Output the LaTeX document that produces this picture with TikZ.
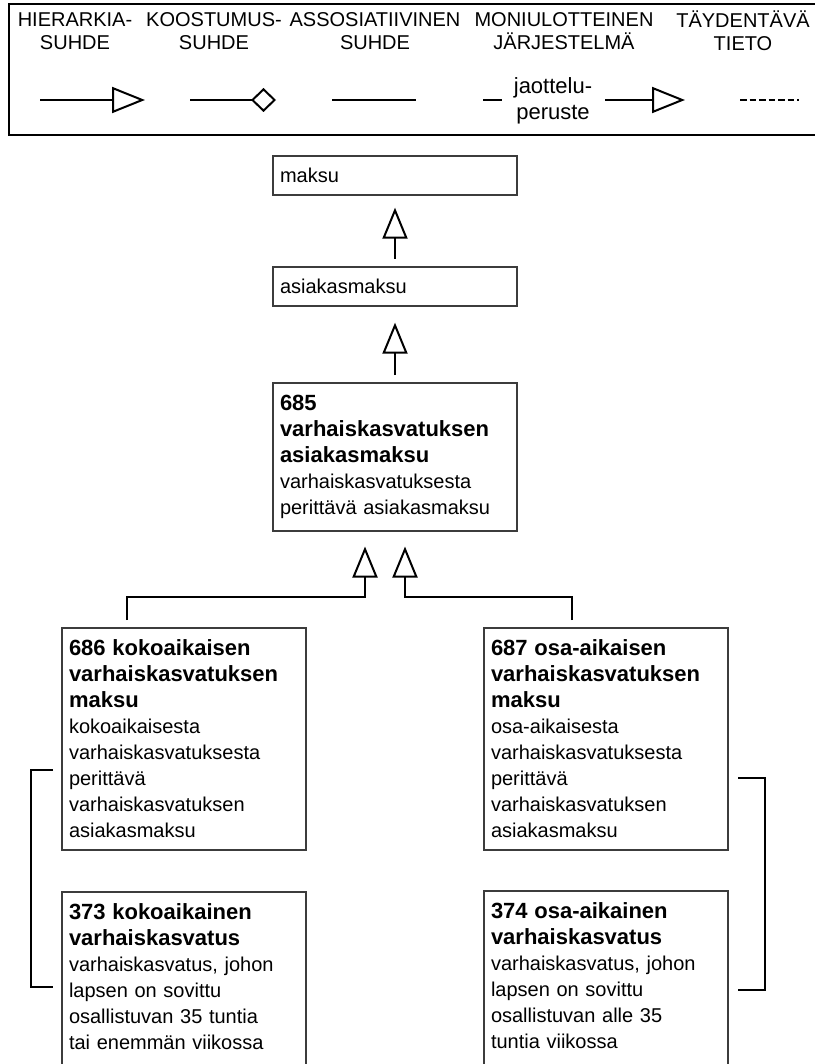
\documentclass[tikz,border=0pt]{standalone}
\usepackage{fontspec}
\setmainfont{Liberation Sans}
\usetikzlibrary{arrows.meta}
\definecolor{boxgray}{RGB}{60,60,60}
\newcommand{\tit}[1]{{\fontsize{22}{26}\selectfont\bfseries #1}}

\begin{document}
\begin{tikzpicture}[x=1pt,y=-1pt,
  term/.style={draw=boxgray, line width=2pt, outer sep=0pt, anchor=north west,
    text width=230pt, inner xsep=7pt, inner ysep=12pt, align=left,
    font=\fontsize{20}{26}\selectfont},
  legtext/.style={align=center, inner sep=0pt, font=\fontsize{20}{23}\selectfont},
  legline/.style={line width=2pt},
  isa/.style={line width=2pt, -{Triangle[open,length=31pt,width=25pt]}},
  assoc/.style={line width=2pt}]
\useasboundingbox (0,0) rectangle (814,1064);
% selite
\draw [line width=2.5pt] (9,4) rectangle (840,135);
\node[legtext] (lhier) at (75,31) {HIERARKIA-\\SUHDE};
\node[legtext] (lkoost) at (214,31) {KOOSTUMUS-\\SUHDE};
\node[legtext] (lassoc) at (375,31) {ASSOSIATIIVINEN\\SUHDE};
\node[legtext] (lmoni) at (564,31) {MONIULOTTEINEN\\JÄRJESTELMÄ};
\node[legtext] (ltayd) at (743,31) {TÄYDENTÄVÄ\\TIETO};
\draw [legline,-{Triangle[open,length=33pt,width=26pt]}] (40,100) -- (145,100);
\draw [legline,-{Diamond[open,length=25pt,width=24pt]}] (190,100) -- (276,100);
\draw [legline] (332,100) -- (416,100);
\draw [legline] (483,100) -- (502,100);
\node[align=center, inner sep=0pt, font=\fontsize{22}{26}\selectfont] (jaot) at (553,101) {jaottelu-\\peruste};
\draw [legline,-{Triangle[open,length=33pt,width=26pt]}] (605,100) -- (685,100);
\draw [legline, dash pattern=on 6.5pt off 3pt] (740,100) -- (798.5,100);
% kasitteet
\node[term] (maksu) at (273,156) {maksu};
\node[term] (asmaksu) at (273,267) {asiakasmaksu};
\node[term] (n685) at (273,383) {\tit{685\\varhaiskasvatuksen\\asiakasmaksu}\\varhaiskasvatuksesta\\perittävä asiakasmaksu};
\node[term] (n686) at (62,628) {\tit{686 kokoaikaisen\\varhaiskasvatuksen\\maksu}\\kokoaikaisesta\\varhaiskasvatuksesta\\perittävä\\varhaiskasvatuksen\\asiakasmaksu};
\node[term] (n687) at (484,628) {\tit{687 osa-aikaisen\\varhaiskasvatuksen\\maksu}\\osa-aikaisesta\\varhaiskasvatuksesta\\perittävä\\varhaiskasvatuksen\\asiakasmaksu};
\node[term] (n373) at (62,892) {\tit{373 kokoaikainen\\varhaiskasvatus}\\varhaiskasvatus, johon\\lapsen on sovittu\\osallistuvan 35 tuntia\\tai enemmän viikossa\rule[-40pt]{0pt}{0pt}};
\node[term] (n374) at (484,891) {\tit{374 osa-aikainen\\varhaiskasvatus}\\varhaiskasvatus, johon\\lapsen on sovittu\\osallistuvan alle 35\\tuntia viikossa\rule[-40pt]{0pt}{0pt}};
% suhteet
\draw [isa, shorten <=8pt, shorten >=13pt] (asmaksu.north) -- (maksu.south);
\draw [isa, shorten <=8pt, shorten >=17pt] (n685.north) -- (asmaksu.south);
\draw [isa, shorten <=8pt] ([xshift=-57pt]n686.north) -- ++(0,-31) -| ([xshift=-30pt,yshift=-16pt]n685.south);
\draw [isa, shorten <=8pt] ([xshift=-34pt]n687.north) -- ++(0,-31) -| ([xshift=10pt,yshift=-16pt]n685.south);
\draw [assoc] ([xshift=-9pt,yshift=-142pt]n686.north west) -- ++(-22,0) |- ([xshift=-9pt,yshift=-95pt]n373.north west);
\draw [assoc] ([xshift=10pt,yshift=-150pt]n687.north east) -- ++(27,0) |- ([xshift=10pt,yshift=-99pt]n374.north east);
\end{tikzpicture}
\end{document}
